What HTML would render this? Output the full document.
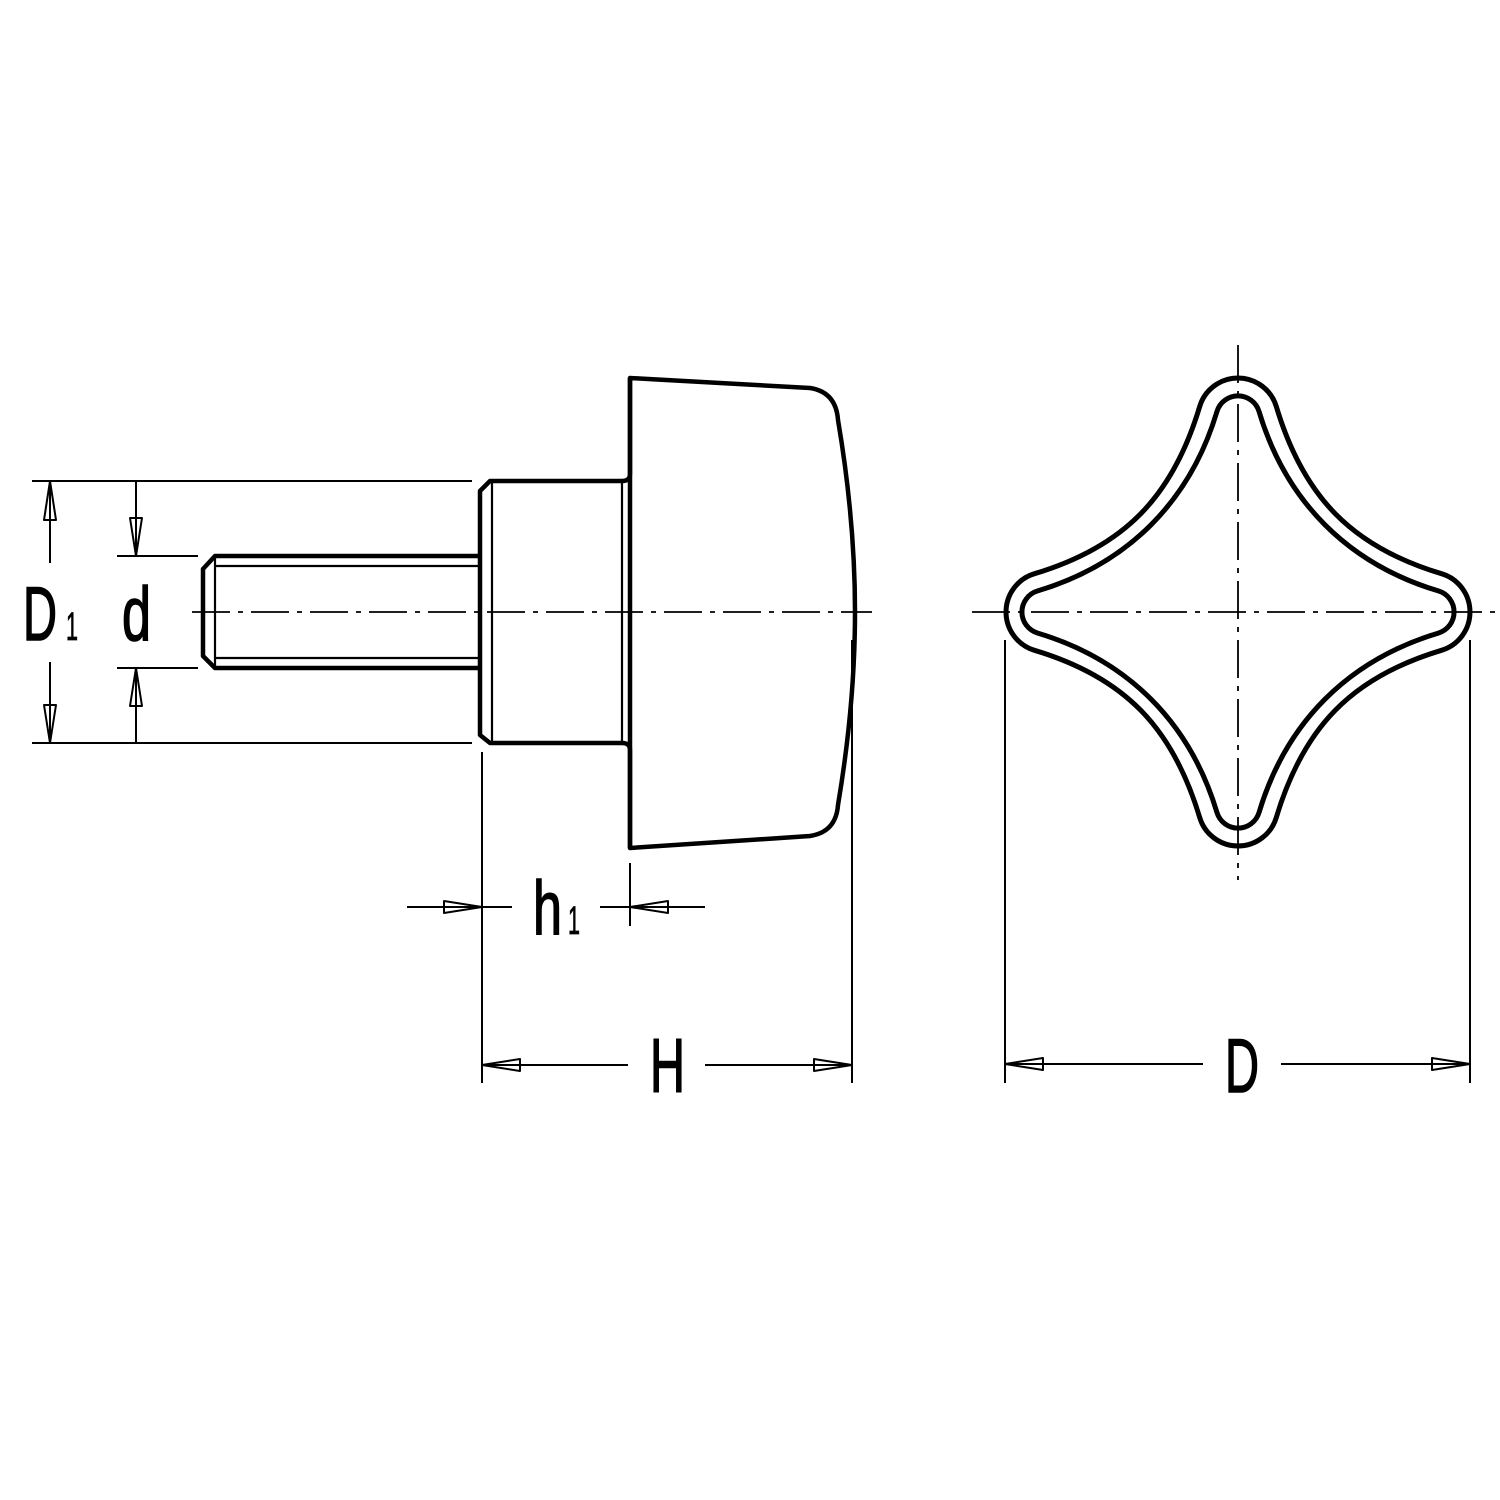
<!DOCTYPE html>
<html><head><style>html,body{margin:0;padding:0;background:#fff}svg{display:block}</style></head>
<body>
<svg width="1500" height="1500" viewBox="0 0 1500 1500" xmlns="http://www.w3.org/2000/svg">
<rect width="1500" height="1500" fill="#fff"/>
<g fill="none" stroke="#000" stroke-linejoin="round">
<g stroke-width="1.8" stroke-dasharray="38 8 5 8">
<line x1="192" y1="612" x2="872" y2="612"/>
<line x1="972" y1="612" x2="1500" y2="612"/>
<line x1="1238" y1="345" x2="1238" y2="880"/>
</g>
<g stroke-width="4.5">
<path d="M630 378 L810 388 Q836 392 838 420 Q855 520 855 612 Q855 704 838 805 Q836 832 810 836 L630 848 Z"/>
<path d="M630 378 L630 474 Q630 481 622 481 L490 481 L480 491 L480 735 L490 743 L622 743 Q630 743 630 750 L630 848"/>
<path d="M480 556 L215 556 L203 569 L203 656 L215 668 L480 668"/>
</g>
<g stroke-width="2.2">
<line x1="492" y1="483" x2="492" y2="741"/>
<line x1="622" y1="483" x2="622" y2="741"/>
<line x1="215" y1="556" x2="215" y2="668"/>
<line x1="215" y1="566" x2="480" y2="566"/>
<line x1="215" y1="658" x2="480" y2="658"/>
</g>
<g stroke-width="5">
<path d="M1199.7 406.5 A40 40 0 0 1 1276.3 406.5 C1303.3 496.5 1351.5 546.7 1441.5 573.7 A40 40 0 0 1 1441.5 650.3 C1351.5 677.3 1303.3 727.5 1276.3 817.5 A40 40 0 0 1 1199.7 817.5 C1172.7 727.5 1124.5 677.3 1034.5 650.3 A40 40 0 0 1 1034.5 573.7 C1124.5 546.7 1172.7 496.5 1199.7 406.5 Z"/>
<path d="M1216.9 411.7 A22 22 0 0 1 1259.1 411.7 C1286.1 501.7 1348.3 563.9 1438.3 590.9 A22 22 0 0 1 1438.3 633.1 C1348.3 660.1 1286.1 722.3 1259.1 812.3 A22 22 0 0 1 1216.9 812.3 C1189.9 722.3 1127.7 660.1 1037.7 633.1 A22 22 0 0 1 1037.7 590.9 C1127.7 563.9 1189.9 501.7 1216.9 411.7 Z"/>
</g>
<g stroke-width="2">
<line x1="32" y1="481" x2="472" y2="481"/>
<line x1="32" y1="743" x2="472" y2="743"/>
<line x1="117" y1="556" x2="198" y2="556"/>
<line x1="117" y1="668" x2="198" y2="668"/>
<line x1="50" y1="481" x2="50" y2="563"/>
<line x1="50" y1="662" x2="50" y2="743"/>
<line x1="136" y1="481" x2="136" y2="556"/>
<line x1="136" y1="668" x2="136" y2="743"/>
<line x1="482" y1="752" x2="482" y2="1083"/>
<line x1="852" y1="640" x2="852" y2="1083"/>
<line x1="630" y1="863" x2="630" y2="926"/>
<line x1="407" y1="907" x2="512" y2="907"/>
<line x1="600" y1="907" x2="705" y2="907"/>
<line x1="482" y1="1065" x2="628" y2="1065"/>
<line x1="705" y1="1065" x2="852" y2="1065"/>
<line x1="1005" y1="640" x2="1005" y2="1083"/>
<line x1="1470" y1="640" x2="1470" y2="1083"/>
<line x1="1005" y1="1064" x2="1203" y2="1064"/>
<line x1="1281" y1="1064" x2="1470" y2="1064"/>
<path d="M50 481 L44 520 L56 520 Z"/>
<path d="M50 743 L44 705 L56 705 Z"/>
<path d="M136 556 L130 518 L142 518 Z"/>
<path d="M136 668 L130 706 L142 706 Z"/>
<path d="M482 907 L444 901 L444 913 Z"/>
<path d="M630 907 L668 901 L668 913 Z"/>
<path d="M482 1065 L520 1059 L520 1071 Z"/>
<path d="M852 1065 L814 1059 L814 1071 Z"/>
<path d="M1005 1064 L1043 1058 L1043 1070 Z"/>
<path d="M1470 1064 L1432 1058 L1432 1070 Z"/>
</g>
</g>
<g font-family="Liberation Sans, sans-serif" fill="#000" stroke="#000" stroke-width="1.6">
<text x="23" y="640" font-size="76" textLength="34" lengthAdjust="spacingAndGlyphs">D</text>
<text x="66" y="640" font-size="40" textLength="12" lengthAdjust="spacingAndGlyphs" stroke-width="0.8">1</text>
<text x="122" y="640" font-size="76" textLength="29" lengthAdjust="spacingAndGlyphs">d</text>
<text x="533" y="934" font-size="76" textLength="29" lengthAdjust="spacingAndGlyphs">h</text>
<text x="568" y="934" font-size="40" textLength="12" lengthAdjust="spacingAndGlyphs" stroke-width="0.8">1</text>
<text x="650" y="1092" font-size="76" textLength="35" lengthAdjust="spacingAndGlyphs">H</text>
<text x="1225" y="1092" font-size="76" textLength="34" lengthAdjust="spacingAndGlyphs">D</text>
</g>
</svg>
</body></html>
